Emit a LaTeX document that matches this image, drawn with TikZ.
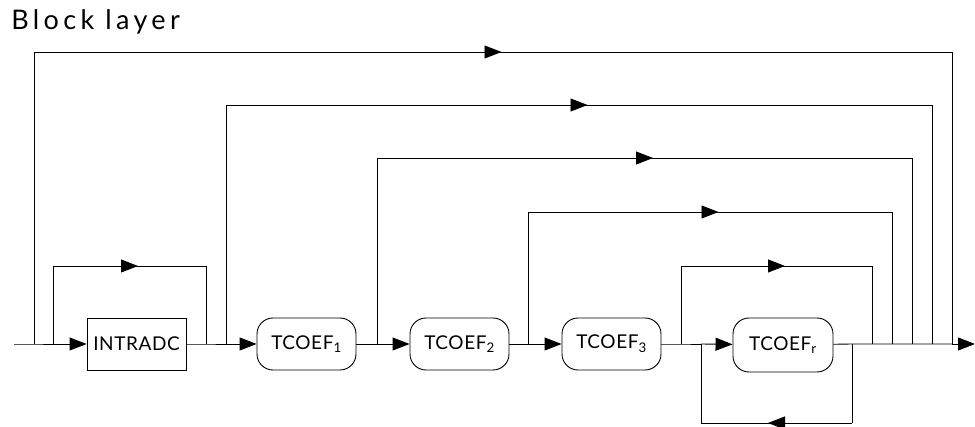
\documentclass[tikz,border=0pt]{standalone}
\usepackage{fontspec}
\setmainfont{Lato}
\usetikzlibrary{arrows.meta,decorations.markings}
\tikzset{
  blk/.style={draw, minimum width=99pt, minimum height=52pt, inner sep=0pt,
    font=\fontsize{19}{21}\selectfont\addfontfeatures{LetterSpace=3}},
  rblk/.style={blk, rounded corners=16pt},
  flow/.style={-{Triangle[length=17pt,width=13pt]}},
  midarrow/.style={postaction={decorate}, decoration={markings,
    mark=at position 0.5 with {\arrow[xshift=8.5pt]{Triangle[length=17pt,width=13pt]}}}},
}
\begin{document}
\begin{tikzpicture}[x=1pt,y=-1pt,line width=0.9pt]
  \useasboundingbox (0,0) rectangle (975,427);

  % title
  \node[anchor=base west, inner sep=0pt,
    font=\fontsize{27}{29}\selectfont\addfontfeatures{LetterSpace=16}] (title) at (11,30) {Block layer};

  % blocks
  \node[blk]  (intra) at (136.5,344) {INTRADC};
  \node[rblk] (tc1) at (306.5,344) {TCOEF\textsubscript{1}};
  \node[rblk] (tc2) at (459.5,344) {TCOEF\textsubscript{2}};
  \node[rblk] (tc3) at (611.5,344) {TCOEF\textsubscript{3}};
  \node[rblk, minimum width=100pt, minimum height=54pt] (tcr) at (783,345) {TCOEF\textsubscript{r}};

  % junctions on the main line
  \coordinate (in) at (14,344);
  \coordinate (out) at (975,344);
  \foreach \n/\x in {j1/34, j2/53, j3/206, j4/226, j5/377, j6/528, j7/681,
                     j8/701, j9/852, j10/872, k1/892, k2/912, k3/932, k4/952}
    \coordinate (\n) at (\x,344);

  % main line
  \draw (in) -- (j1) -- (j2);
  \draw[flow] (j2) -- (intra);
  \draw (intra) -- (j3) -- (j4);
  \draw[flow] (j4) -- (tc1);
  \draw[flow] (tc1) -- (tc2);
  \draw[flow] (tc2) -- (tc3);
  \draw (tc3) -- (j7) -- (j8);
  \draw[flow] (j8) -- (tcr);
  \draw (tcr) -- (j9) -- (j10) -- (k1) -- (k2) -- (k3) -- (k4);
  \draw[flow] (k4) -- (out);

  % bypass loops
  \foreach \a/\b/\y in {j1/k4/52, j4/k3/105, j5/k2/158, j6/k1/212, j7/j10/266, j2/j3/266} {
    \coordinate (\a-up) at (\a |- 0,\y);
    \coordinate (\b-up) at (\b |- 0,\y);
    \draw (\a) -- (\a-up);
    \draw[midarrow] (\a-up) -- (\b-up);
    \draw (\b-up) -- (\b);
  }

  % feedback of TCOEF_r
  \coordinate (j9-dn) at (j9 |- 0,423);
  \coordinate (j8-dn) at (j8 |- 0,423);
  \draw (j9) -- (j9-dn);
  \draw[midarrow] (j9-dn) -- (j8-dn);
  \draw (j8-dn) -- (j8);
\end{tikzpicture}
\end{document}
